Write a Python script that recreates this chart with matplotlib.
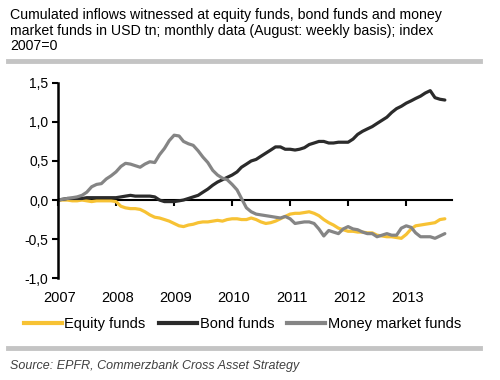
import numpy as np
import pandas as pd
import matplotlib
matplotlib.use("Agg")
import matplotlib.pyplot as plt
import matplotlib.dates as mdates
from matplotlib.lines import Line2D

plt.rcParams['font.family'] = ['Liberation Sans', 'DejaVu Sans']

# monthly data, Jan 2007 - Sep 2013, USD tn, index 2007=0
months = pd.date_range('2007-01-01', periods=81, freq='MS')

equity = [0.00, 0.00, 0.00, -0.01, -0.01, 0.00, -0.01, -0.02, -0.01, -0.01, -0.01, -0.01,
          -0.02, -0.08, -0.10, -0.11, -0.11, -0.12, -0.15, -0.19, -0.22, -0.23, -0.25, -0.27,
          -0.30, -0.33, -0.34, -0.32, -0.31, -0.29, -0.28, -0.28, -0.27, -0.26, -0.27, -0.25,
          -0.24, -0.24, -0.25, -0.25, -0.23, -0.25, -0.28, -0.30, -0.29, -0.27, -0.24, -0.21,
          -0.18, -0.17, -0.17, -0.16, -0.15, -0.17, -0.20, -0.25, -0.29, -0.32, -0.36, -0.38,
          -0.40, -0.40, -0.41, -0.41, -0.42, -0.42, -0.45, -0.46, -0.47, -0.47, -0.48, -0.49,
          -0.44, -0.37, -0.33, -0.32, -0.31, -0.30, -0.29, -0.25, -0.24]

bond = [0.00, 0.01, 0.02, 0.02, 0.02, 0.02, 0.03, 0.03, 0.03, 0.03, 0.03, 0.03,
        0.03, 0.04, 0.05, 0.06, 0.05, 0.05, 0.05, 0.05, 0.04, 0.00, -0.02, -0.02,
        -0.02, -0.01, 0.00, 0.02, 0.04, 0.06, 0.10, 0.14, 0.19, 0.23, 0.26, 0.29,
        0.32, 0.36, 0.42, 0.46, 0.50, 0.52, 0.56, 0.60, 0.64, 0.68, 0.68, 0.65,
        0.65, 0.64, 0.65, 0.67, 0.71, 0.73, 0.75, 0.75, 0.73, 0.73, 0.74, 0.74,
        0.74, 0.78, 0.84, 0.88, 0.91, 0.94, 0.98, 1.02, 1.06, 1.12, 1.17, 1.20,
        1.24, 1.27, 1.30, 1.33, 1.37, 1.40, 1.31, 1.29, 1.28]

money = [0.00, 0.01, 0.02, 0.03, 0.04, 0.06, 0.10, 0.17, 0.20, 0.21, 0.27, 0.31,
         0.36, 0.43, 0.47, 0.46, 0.44, 0.42, 0.46, 0.49, 0.48, 0.58, 0.66, 0.76,
         0.83, 0.82, 0.75, 0.72, 0.70, 0.63, 0.55, 0.48, 0.38, 0.32, 0.28, 0.26,
         0.20, 0.13, 0.02, -0.10, -0.15, -0.18, -0.19, -0.20, -0.21, -0.22, -0.23, -0.21,
         -0.24, -0.30, -0.29, -0.28, -0.28, -0.30, -0.37, -0.46, -0.39, -0.41, -0.43, -0.37,
         -0.34, -0.37, -0.38, -0.41, -0.43, -0.43, -0.47, -0.45, -0.43, -0.45, -0.45, -0.36,
         -0.33, -0.35, -0.42, -0.47, -0.47, -0.47, -0.49, -0.46, -0.43]

years = list(range(2007, 2014))
yticks = [-1.0, -0.5, 0.0, 0.5, 1.0, 1.5]

c_eq = '#F7C234'
c_bond = '#2b2b2b'
c_mm = '#858585'

fig = plt.figure(figsize=(5, 3.8), dpi=100)
ax = fig.add_axes([0.116, 0.268, 0.788, 0.514])

ax.plot(months, equity, color=c_eq, lw=2.3, solid_capstyle='round')
ax.plot(months, bond, color=c_bond, lw=2.3, solid_capstyle='round')
ax.plot(months, money, color=c_mm, lw=2.3, solid_capstyle='round')

ax.set_ylim(-1.0, 1.5)
ax.set_xlim(pd.Timestamp('2007-01-01'), pd.Timestamp('2013-10-16'))
ax.set_yticks(yticks)
ax.set_yticklabels([f"{v:.1f}".replace('.', ',') for v in yticks], fontsize=10)

for s in ['top', 'right']:
    ax.spines[s].set_visible(False)
ax.spines['left'].set_linewidth(1.8)
ax.spines['bottom'].set_position(('data', 0))
ax.spines['bottom'].set_linewidth(1.5)
ax.spines['bottom'].set_zorder(0)

yr_pos = [pd.Timestamp(f'{y}-01-01') for y in years]
ax.set_xticks(yr_pos)
ax.tick_params(axis='x', direction='out', length=4, width=1.5, labelbottom=False)
ax.tick_params(axis='y', direction='out', length=4, width=1.5, pad=3)

for p, y in zip(yr_pos, years):
    ax.text(mdates.date2num(p) + 10, -0.1, str(y), transform=ax.get_xaxis_transform(),
            ha='center', va='center', fontsize=10.5)

fig.text(0.02, 0.978, "Cumulated inflows witnessed at equity funds, bond funds and money\n"
         "market funds in USD tn; monthly data (August: weekly basis); index\n2007=0",
         ha='left', va='top', fontsize=10.2, linespacing=1.12)

fig.add_artist(Line2D([0.016, 0.96], [0.84, 0.84], color='#c4c4c4', lw=3.5))
fig.add_artist(Line2D([0.016, 0.96], [0.083, 0.083], color='#c4c4c4', lw=3.5))

handles = [Line2D([], [], color=c_eq, lw=3),
           Line2D([], [], color=c_bond, lw=3),
           Line2D([], [], color=c_mm, lw=3)]
fig.legend(handles, ['Equity funds', 'Bond funds', 'Money market funds'],
           loc='center', bbox_to_anchor=(0.485, 0.148), ncol=3, frameon=False,
           fontsize=10.5, handlelength=2.6, handletextpad=0.2, columnspacing=0.9)

fig.text(0.02, 0.037, "Source: EPFR, Commerzbank Cross Asset Strategy", ha='left', va='center',
         fontsize=9, style='italic', color='#404040')

fig.savefig('out.png', dpi=100)
